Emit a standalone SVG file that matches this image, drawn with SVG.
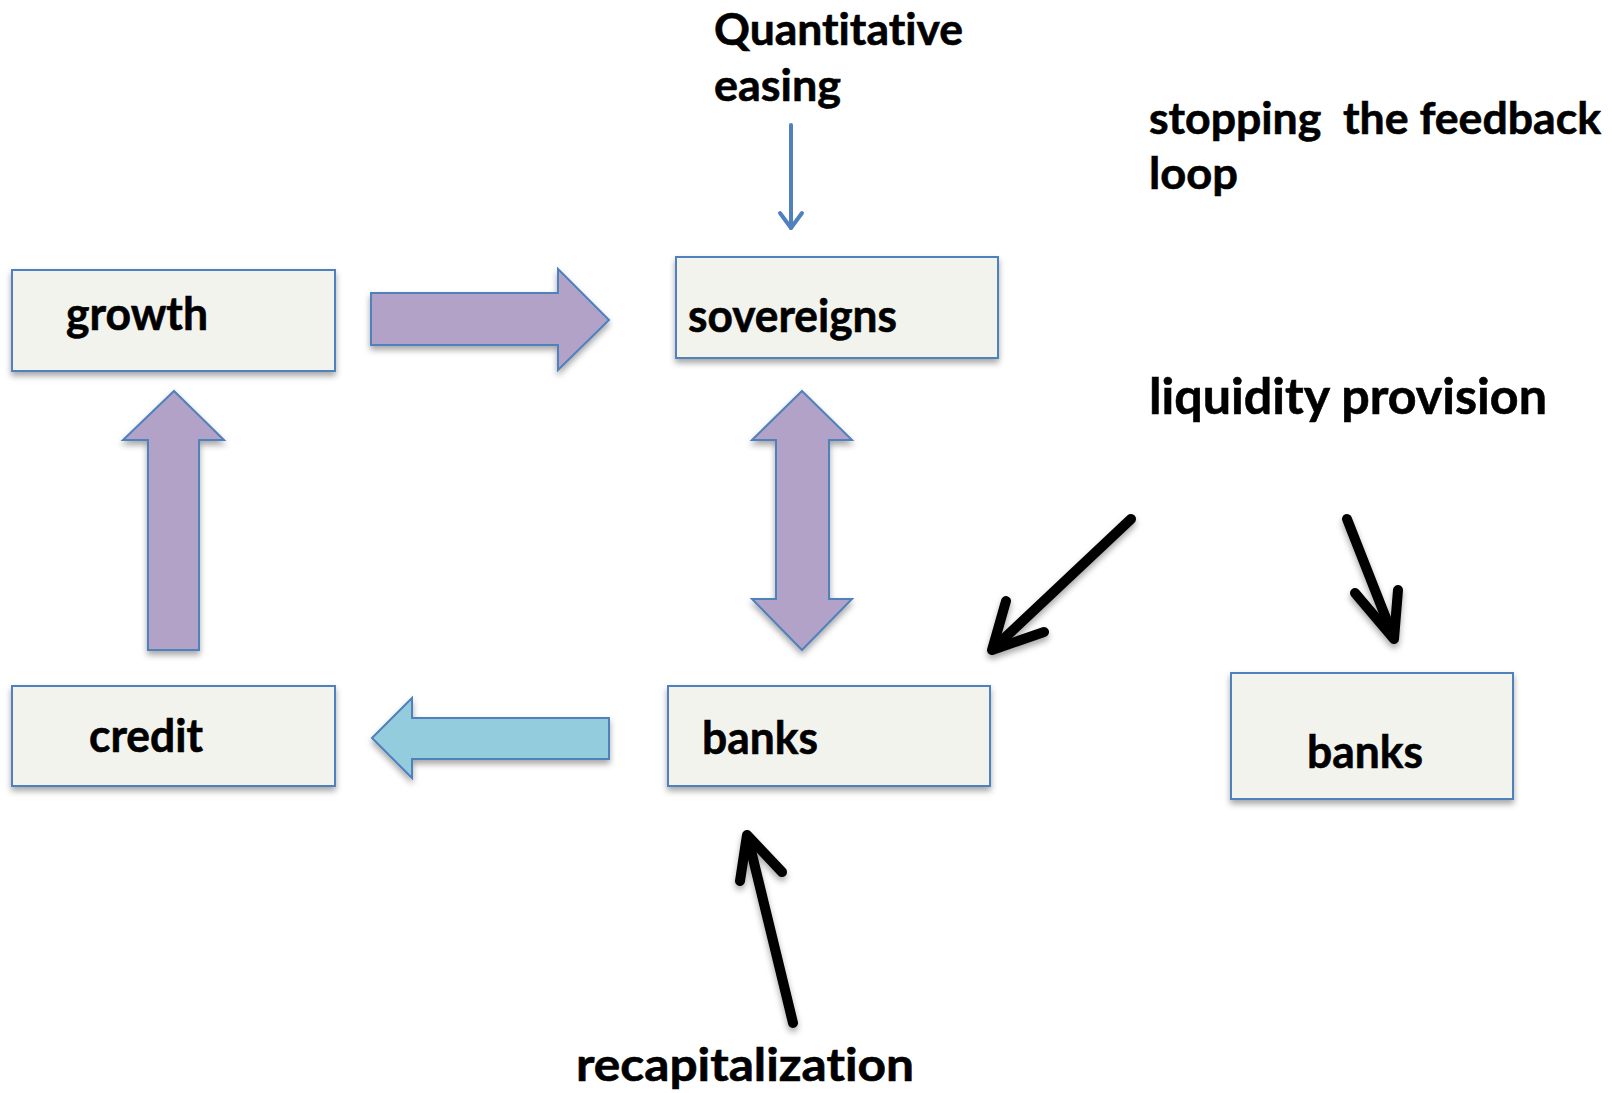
<svg xmlns="http://www.w3.org/2000/svg" width="1612" height="1093" viewBox="0 0 1612 1093">
<defs>
<filter id="sh" x="-10%" y="-10%" width="120%" height="130%">
<feDropShadow dx="0" dy="4" stdDeviation="3" flood-color="#000" flood-opacity="0.35"/>
</filter>
<style>
.box{fill:#f3f3ed;stroke:#4f81bd;stroke-width:2;filter:url(#sh)}
.t{font-family:Lato,"Open Sans","Liberation Sans",sans-serif;font-weight:bold;fill:#000;font-variant-ligatures:none;font-feature-settings:"liga" 0;stroke:#000;stroke-width:0.6}
.blk{fill:none;stroke:#000;stroke-width:10;stroke-linecap:round;stroke-linejoin:round}
.pur{fill:#b2a2c7;stroke:#4f81bd;stroke-width:2;filter:url(#sh)}
.cy{fill:#93cddd;stroke:#4f81bd;stroke-width:2;filter:url(#sh)}
</style>
</defs>
<rect width="1612" height="1093" fill="#fff"/>

<g id="growth">
<rect class="box" x="12" y="270" width="323" height="101"/>
<text class="t" x="66" y="330" font-size="45" textLength="142" lengthAdjust="spacingAndGlyphs">growth</text>
</g>
<g id="sovereigns">
<rect class="box" x="676" y="257" width="322" height="101"/>
<text class="t" x="688" y="332" font-size="45" textLength="209" lengthAdjust="spacingAndGlyphs">sovereigns</text>
</g>
<g id="credit">
<rect class="box" x="12" y="686" width="323" height="100"/>
<text class="t" x="89" y="752" font-size="45" textLength="114" lengthAdjust="spacingAndGlyphs">credit</text>
</g>
<g id="banks">
<rect class="box" x="668" y="686" width="322" height="100"/>
<text class="t" x="702" y="754" font-size="45" textLength="116" lengthAdjust="spacingAndGlyphs">banks</text>
</g>
<g id="banks2">
<rect class="box" x="1231" y="673" width="282" height="126"/>
<text class="t" x="1307" y="768" font-size="45" textLength="116" lengthAdjust="spacingAndGlyphs">banks</text>
</g>

<g id="labels">
<text class="t" x="714" y="45" font-size="44" textLength="249" lengthAdjust="spacingAndGlyphs">Quantitative</text>
<text class="t" x="714" y="101" font-size="44" textLength="127" lengthAdjust="spacingAndGlyphs">easing</text>
<text class="t" x="1149" y="134" font-size="44" textLength="452" lengthAdjust="spacingAndGlyphs" xml:space="preserve">stopping  the feedback</text>
<text class="t" x="1149" y="189" font-size="44" textLength="89" lengthAdjust="spacingAndGlyphs">loop</text>
<text class="t" x="1149" y="414" font-size="50" textLength="398" lengthAdjust="spacingAndGlyphs">liquidity provision</text>
<text class="t" x="576" y="1081" font-size="46" textLength="338" lengthAdjust="spacingAndGlyphs">recapitalization</text>
</g>

<g id="connectors">
<polygon class="pur" points="371,293 558,293 558,269 609,320 558,370 558,345 371,345"/>
<polygon class="pur" points="148,650 148,440 123,440 174,391 224,440 199,440 199,650"/>
<polygon class="pur" points="802,391 852,440 829,440 829,599 852,599 802,650 752,599 776,599 776,440 752,440"/>
<polygon class="cy" points="372,738 412,698 412,718 609,718 609,759 412,759 412,778"/>
<g fill="none" stroke="#4f81bd" stroke-width="4" stroke-linecap="round" stroke-linejoin="round">
<line x1="791" y1="125" x2="791" y2="228"/>
<polyline points="780,213 791,228 802,213"/>
</g>
<g class="blk" filter="url(#sh)">
<line x1="1131" y1="519" x2="994" y2="648"/>
<polyline points="1006,601 992,650 1044,632"/>
<line x1="1347" y1="519" x2="1393" y2="636"/>
<polyline points="1355,593 1394,639 1398,590"/>
<line x1="793" y1="1023" x2="748" y2="838"/>
<polyline points="740,881 747,835 782,872"/>
</g>
</g>
</svg>
